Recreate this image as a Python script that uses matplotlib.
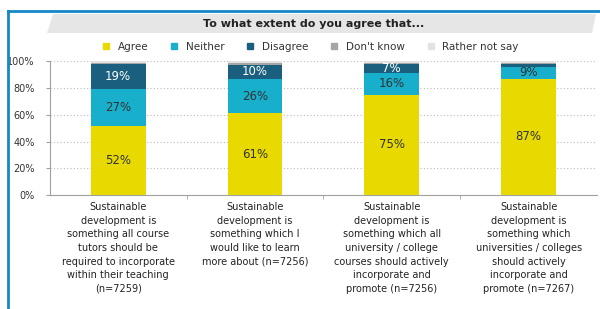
import numpy as np
import matplotlib.pyplot as plt
from matplotlib.patches import Polygon
from matplotlib.lines import Line2D

categories = [
    "Sustainable\ndevelopment is\nsomething all course\ntutors should be\nrequired to incorporate\nwithin their teaching\n(n=7259)",
    "Sustainable\ndevelopment is\nsomething which I\nwould like to learn\nmore about (n=7256)",
    "Sustainable\ndevelopment is\nsomething which all\nuniversity / college\ncourses should actively\nincorporate and\npromote (n=7256)",
    "Sustainable\ndevelopment is\nsomething which\nuniversities / colleges\nshould actively\nincorporate and\npromote (n=7267)",
]
series_names = ["Agree", "Neither", "Disagree", "Don't know", "Rather not say"]
agree = [52, 61, 75, 87]
neither = [27, 26, 16, 9]
disagree = [19, 10, 7, 2]
dont_know = [1, 2, 1, 1]
rather_not = [1, 1, 1, 1]

colors = ["#E8D900", "#17AFCB", "#1A5F7D", "#A6A6A6", "#E3E3E3"]
label_colors = ["#333333", "#333333", "white", None, None]
show_min = 5

fig = plt.figure(figsize=(6, 3.09), dpi=100)
ax = fig.add_axes([0.083, 0.368, 0.912, 0.434])

x = np.arange(len(categories))
width = 0.4
bottom = np.zeros(len(categories))
for name, vals, c, lc in zip(series_names, [agree, neither, disagree, dont_know, rather_not], colors, label_colors):
    vals = np.array(vals, dtype=float)
    ax.bar(x, vals, width, bottom=bottom, color=c, label=name, zorder=3)
    if lc is not None:
        for xi, b, v in zip(x, bottom, vals):
            if v >= show_min:
                ax.text(xi, b + v / 2, f"{int(v)}%", ha="center", va="center",
                        fontsize=8.5, color=lc, zorder=4)
    bottom += vals

ax.set_xlim(-0.5, 3.5)
ax.set_ylim(0, 100)
ax.set_yticks([0, 20, 40, 60, 80, 100])
ax.set_yticklabels([f"{v}%" for v in [0, 20, 40, 60, 80, 100]], fontsize=7, color="#333333")
ax.set_xticks(x)
ax.set_xticklabels(categories, fontsize=7, color="#222222", linespacing=1.45)
ax.tick_params(axis="x", length=0, pad=5)
ax.tick_params(axis="y", length=3, color="#A0A0A0", pad=8)
ax.set_xticks([0.5, 1.5, 2.5], minor=True)
ax.tick_params(axis="x", which="minor", length=3, color="#A0A0A0")
ax.grid(axis="y", linestyle=(0, (1, 2)), color="#BBBBBB", linewidth=0.8, zorder=0)
for s in ["top", "right"]:
    ax.spines[s].set_visible(False)
for s in ["left", "bottom"]:
    ax.spines[s].set_color("#A0A0A0")

handles = [Line2D([0], [0], marker="s", linestyle="", markersize=4, color=c) for c in colors]
fig.legend(handles, series_names, loc="center", bbox_to_anchor=(0.512, 0.848), ncol=5,
           frameon=False, fontsize=7.5, handletextpad=0.1, columnspacing=1.5,
           labelcolor="#333333")

# title band
band = Polygon([[47 / 600, 1 - 33 / 309], [592 / 600, 1 - 33 / 309],
                [596 / 600, 1 - 14 / 309], [53 / 600, 1 - 14 / 309]],
               closed=True, transform=fig.transFigure, facecolor="#E6E6E6",
               edgecolor="none", zorder=0)
fig.patches.append(band)
fig.text(0.522, 1 - 24 / 309, "To what extent do you agree that...", ha="center", va="center",
         fontsize=8, fontweight="bold", color="#222222")

# blue frame
fig.add_artist(Line2D([8 / 600, 8 / 600], [0, 1 - 11 / 309], transform=fig.transFigure,
                      color="#1488C6", linewidth=2))
fig.add_artist(Line2D([8 / 600, 1], [1 - 11 / 309, 1 - 11 / 309], transform=fig.transFigure,
                      color="#1488C6", linewidth=2))

fig.savefig("out.png", dpi=100)
